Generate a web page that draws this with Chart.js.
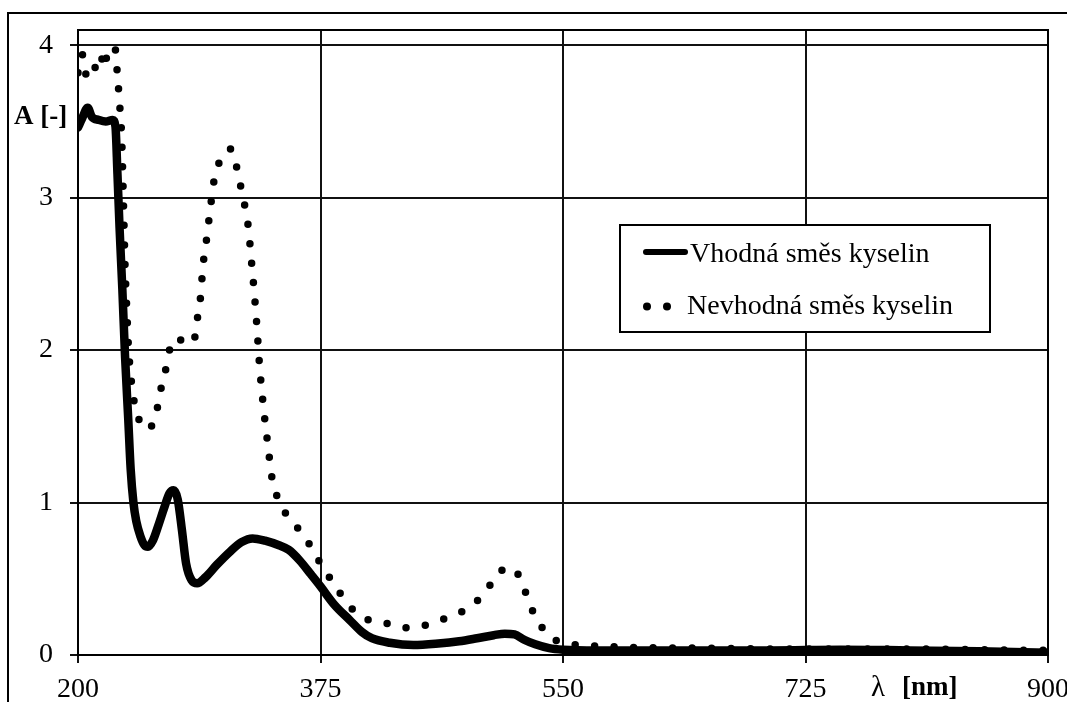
<!DOCTYPE html>
<html>
<head>
<meta charset="utf-8">
<script src="https://cdn.jsdelivr.net/npm/chart.js@4"></script>
<style>
  html, body { margin: 0; padding: 0; background: #fff; }
  #wrap { width: 1067px; height: 702px; }
</style>
</head>
<body>
<div id="wrap"><canvas id="spectrumChart" width="1067" height="702"></canvas></div>
<script>
// wavelengths (nm) and absorbance
const solidNm = [200, 203, 207, 210, 215, 220, 225, 227, 228.5, 230, 232, 234, 236.3, 238, 240, 242, 245, 248, 250.5, 254,
    258, 262, 266, 269, 272, 275, 278, 282, 286, 292, 300, 310, 318, 326, 335, 345, 352, 360, 368, 375,
    385, 396, 405, 412, 425, 442, 460, 475, 488, 500, 508, 515, 522, 530, 540, 550, 575, 625, 700, 750,
    800, 850, 900];
const solidA = [3.46, 3.52, 3.59, 3.53, 3.51, 3.50, 3.51, 3.47, 3.15, 2.8, 2.4, 1.95, 1.54, 1.22, 1.0, 0.88, 0.78, 0.72, 0.71, 0.75,
    0.85, 0.96, 1.06, 1.08, 1.02, 0.82, 0.60, 0.49, 0.47, 0.51, 0.59, 0.68, 0.74, 0.765, 0.75, 0.72, 0.69, 0.62, 0.53, 0.45,
    0.33, 0.23, 0.15, 0.11, 0.08, 0.065, 0.075, 0.09, 0.11, 0.13, 0.14, 0.135, 0.10, 0.07, 0.045, 0.035, 0.03, 0.03, 0.03, 0.035,
    0.03, 0.025, 0.015];

const dottedNm = [200, 203, 206, 209, 213, 216.5, 218.5, 222, 226.5, 228.5, 230.3, 231.5, 233, 234, 235.3, 236.3, 238.7, 241, 244.7, 250,
    253, 256.8, 259.2, 262.8, 265.2, 268, 271.2, 277.2, 283.5, 285.6, 288, 290.4, 292.4, 294, 295.8, 297.7, 299, 302.5, 306, 310.2,
    314.5, 317.5, 320.5, 323, 325, 327, 329, 331, 333, 335, 337, 340, 344.5, 348, 357, 365.4, 372, 380, 388, 396,
    408, 421.5, 435, 447, 460, 473, 485, 495, 503, 513.5, 521, 526, 532, 538, 544, 557, 571, 585, 600, 650,
    700, 750, 800, 850, 900];
const dottedA = [3.82, 3.94, 3.80, 3.78, 3.87, 3.94, 3.85, 3.97, 3.99, 3.80, 3.58, 3.40, 2.90, 2.54, 2.25, 2.04, 1.78, 1.64, 1.53, 1.48,
    1.50, 1.60, 1.72, 1.85, 1.97, 2.05, 2.08, 2.05, 2.05, 2.18, 2.31, 2.57, 2.70, 2.82, 2.95, 3.09, 3.13, 3.25, 3.30, 3.32,
    3.20, 3.07, 2.94, 2.80, 2.60, 2.40, 2.17, 1.90, 1.70, 1.53, 1.38, 1.16, 1.02, 0.955, 0.85, 0.75, 0.645, 0.53, 0.42, 0.32,
    0.236, 0.21, 0.178, 0.186, 0.225, 0.267, 0.33, 0.426, 0.536, 0.57, 0.46, 0.33, 0.225, 0.14, 0.10, 0.07, 0.06, 0.054, 0.05, 0.045,
    0.04, 0.04, 0.04, 0.035, 0.03];

const seriesNames = ["Vhodná směs kyselin", "Nevhodná směs kyselin"];
const xTicks = [200, 375, 550, 725, 900];
const yTicks = [0, 1, 2, 3, 4];

const serif = "'Liberation Serif', 'Times New Roman', serif";
Chart.defaults.font.family = serif;
Chart.defaults.font.size = 28;
Chart.defaults.color = "#000";

function toPoints(xs, ys) {
    return xs.map(function(x, i) { return {x: x, y: ys[i]}; });
}

// white page, outer frame, plot box, axis titles and the legend box
const framePlugin = {
    id: "frame",
    beforeDraw(chart) {
        const ctx = chart.ctx;
        ctx.save();
        ctx.fillStyle = "#fff";
        ctx.fillRect(0, 0, chart.width, chart.height);
        ctx.strokeStyle = "#000";
        ctx.lineWidth = 2;
        ctx.strokeRect(8, 13, chart.width + 20, chart.height + 20);
        ctx.restore();
    },
    afterDraw(chart) {
        const ctx = chart.ctx;
        const area = chart.chartArea;
        ctx.save();
        ctx.strokeStyle = "#000";
        ctx.lineWidth = 2;
        ctx.beginPath();
        ctx.moveTo(area.left, area.top);
        ctx.lineTo(area.right, area.top);
        ctx.lineTo(area.right, area.bottom);
        ctx.stroke();

        // axis titles
        ctx.fillStyle = "#000";
        ctx.textBaseline = "middle";
        ctx.textAlign = "left";
        ctx.font = "bold 27px " + serif;
        ctx.fillText("A [-]", 14, 117);
        ctx.font = "29px " + serif;
        ctx.fillText("λ", 871, 688);
        ctx.font = "bold 27px " + serif;
        ctx.fillText("[nm]", 902, 688);

        // legend
        const ds = chart.data.datasets;
        ctx.fillStyle = "#fff";
        ctx.fillRect(620, 225, 370, 107);
        ctx.strokeRect(620, 225, 370, 107);
        ctx.lineCap = "round";
        ctx.lineWidth = 6;
        ctx.beginPath();
        ctx.moveTo(646, 252);
        ctx.lineTo(685, 252);
        ctx.stroke();
        ctx.fillStyle = "#000";
        [647, 667].forEach(function(cx) {
            ctx.beginPath();
            ctx.arc(cx, 306.5, 4, 0, Math.PI * 2);
            ctx.fill();
        });
        ctx.font = "28px " + serif;
        ctx.textBaseline = "alphabetic";
        ctx.fillText(ds[0].label, 690, 262);
        ctx.fillText(ds[1].label, 687, 314);
        ctx.restore();
    }
};

new Chart(document.getElementById("spectrumChart"), {
    type: "line",
    data: {
        datasets: [{
            label: seriesNames[0],
            data: toPoints(solidNm, solidA),
            borderColor: "#000",
            borderWidth: 8.5,
            borderJoinStyle: "round",
            borderCapStyle: "round",
            cubicInterpolationMode: "monotone",
            pointRadius: 0
        }, {
            label: seriesNames[1],
            data: toPoints(dottedNm, dottedA),
            borderColor: "#000",
            borderWidth: 7.5,
            borderDash: [0, 19.5],
            borderCapStyle: "round",
            cubicInterpolationMode: "monotone",
            pointRadius: 0
        }]
    },
    options: {
        responsive: false,
        animation: false,
        layout: { padding: { left: 0, top: 30, right: 19, bottom: 0 } },
        plugins: {
            legend: { display: false },
            tooltip: { enabled: false }
        },
        scales: {
            x: {
                type: "linear",
                min: 200,
                max: 900,
                afterBuildTicks(axis) { axis.ticks = xTicks.map(function(v) { return {value: v}; }); },
                afterFit(axis) { axis.height = 47; axis.paddingLeft = 0; axis.paddingRight = 0; },
                grid: { color: "#111", lineWidth: 2, tickLength: 8 },
                border: { color: "#000", width: 2 },
                ticks: { padding: 10, maxRotation: 0, font: { size: 28 } }
            },
            y: {
                min: 0,
                max: 4.1,
                afterBuildTicks(axis) { axis.ticks = yTicks.map(function(v) { return {value: v}; }); },
                afterFit(axis) { axis.width = 78; axis.paddingTop = 0; axis.paddingBottom = 0; },
                grid: { color: "#111", lineWidth: 2, tickLength: 8 },
                border: { color: "#000", width: 2 },
                ticks: { padding: 17, font: { size: 28 } }
            }
        }
    },
    plugins: [framePlugin]
});
</script>
</body>
</html>
